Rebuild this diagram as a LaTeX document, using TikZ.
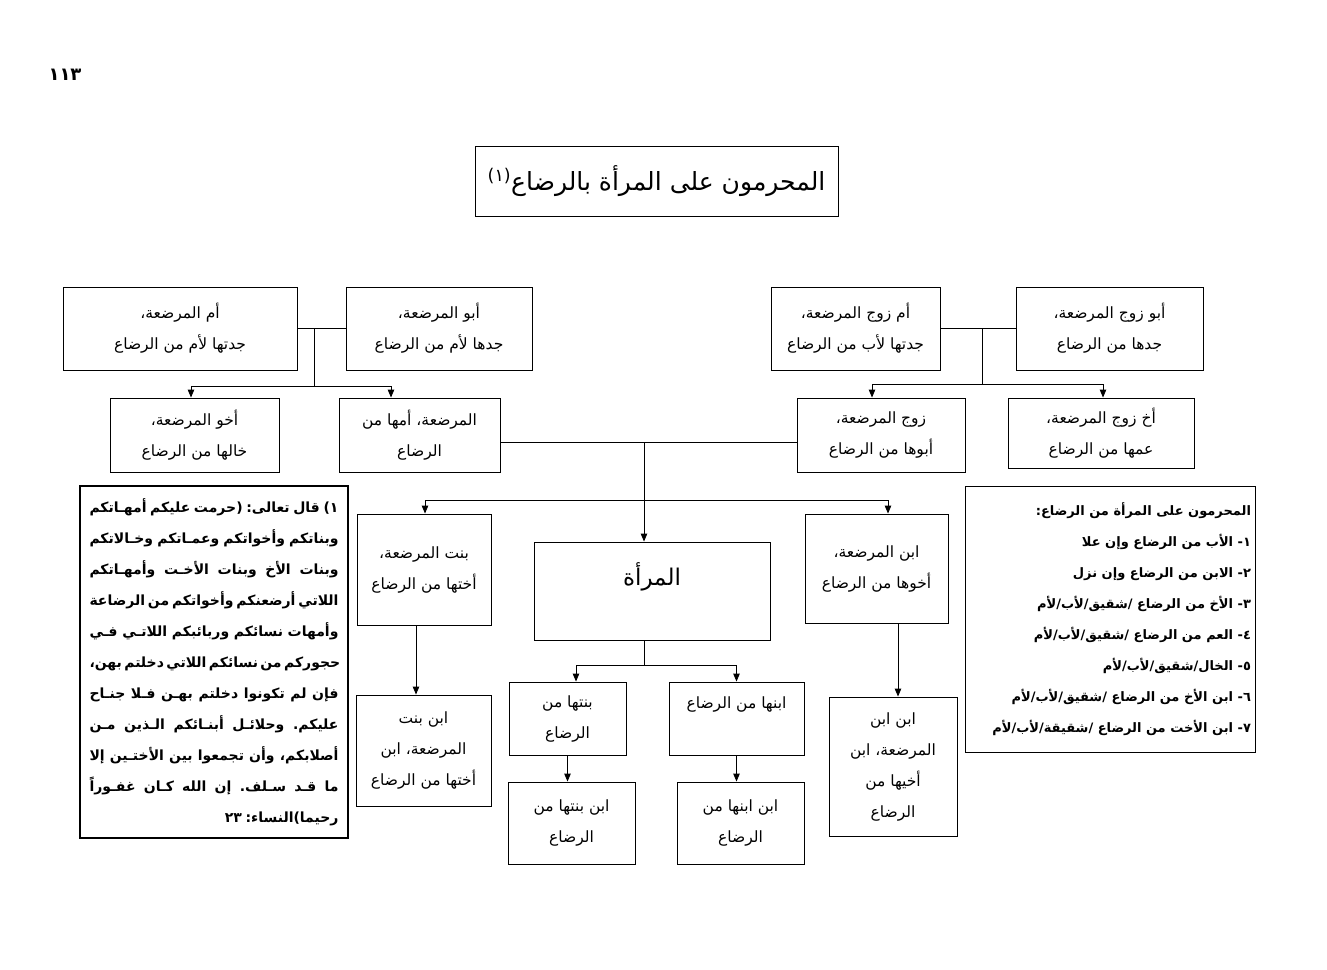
\documentclass[tikz,border=0pt]{standalone}
\usepackage{fontspec}
\usetikzlibrary{arrows.meta}
\newfontfamily\arabicfont[Script=Arabic]{DejaVu Sans}
\TeXXeTstate=1
\frenchspacing
\newcommand{\AR}[1]{\beginR #1\endR}
\newcommand{\noteline}[1]{\hbox to 249pt{\beginR #1\endR}}
\newcommand{\notelast}[1]{\hbox to 249pt{\hfill\beginR #1\endR}}
\newcommand{\listline}[1]{\hbox to 282pt{\hfill\beginR #1\endR}}
\begin{document}
\begin{tikzpicture}[x=1pt,y=-1pt,
  box/.style={draw, line width=0.9pt, inner sep=0pt, align=center,
    font=\arabicfont\fontsize{15.5}{31}\selectfont},
  conn/.style={line width=0.9pt},
  arr/.style={line width=0.9pt, -{Triangle[length=8pt,width=6.5pt]}}]
\useasboundingbox (0,0) rectangle (1327,969);

\node[font=\arabicfont\bfseries\fontsize{18}{20}\selectfont] (pg) at (65,75) {١١٣};

\node[box, minimum width=363pt, minimum height=70pt,
  font=\arabicfont\fontsize{25}{28}\selectfont] (title) at (656.5,181)
  {\AR{المحرمون على المرأة بالرضاع\textsuperscript{(١)}}};

\node[box, minimum width=234pt, minimum height=83pt] (a1) at (180,328.5)
  {\AR{أم المرضعة،}\\\AR{جدتها لأم من الرضاع}};
\node[box, minimum width=186pt, minimum height=83pt] (a2) at (439,328.5)
  {\AR{أبو المرضعة،}\\\AR{جدها لأم من الرضاع}};
\node[box, minimum width=169pt, minimum height=83pt] (a3) at (855.5,328.5)
  {\AR{أم زوج المرضعة،}\\\AR{جدتها لأب من الرضاع}};
\node[box, minimum width=187pt, minimum height=83pt] (a4) at (1109.5,328.5)
  {\AR{أبو زوج المرضعة،}\\\AR{جدها من الرضاع}};

\node[box, minimum width=169pt, minimum height=74pt] (b1) at (194.5,435)
  {\AR{أخو المرضعة،}\\\AR{خالها من الرضاع}};
\node[box, minimum width=161pt, minimum height=74pt] (b2) at (419.5,435)
  {\AR{المرضعة، أمها من}\\\AR{الرضاع}};
\node[box, minimum width=168pt, minimum height=74pt] (c2) at (881,435)
  {\AR{زوج المرضعة،}\\\AR{أبوها من الرضاع}};
\node[box, minimum width=186pt, minimum height=70pt] (c1) at (1101,433)
  {\AR{أخ زوج المرضعة،}\\\AR{عمها من الرضاع}};

\node[box, minimum width=134pt, minimum height=111pt] (d1) at (424,569.5)
  {\AR{بنت المرضعة،}\\\AR{أختها من الرضاع}};
\node[box, minimum width=236pt, minimum height=98pt, text height=16pt, text depth=28pt,
  font=\arabicfont\fontsize{23}{26}\selectfont] (mar) at (652,591) {\AR{المرأة}};
\node[box, minimum width=143pt, minimum height=109pt] (d3) at (876.5,568.5)
  {\AR{ابن المرضعة،}\\\AR{أخوها من الرضاع}};

\node[box, minimum width=135pt, minimum height=111pt] (e1) at (423.5,750.5)
  {\AR{ابن بنت}\\\AR{المرضعة، ابن}\\\AR{أختها من الرضاع}};
\node[box, minimum width=117pt, minimum height=73pt] (f1) at (567.5,718.5)
  {\AR{بنتها من}\\\AR{الرضاع}};
\node[box, minimum width=135pt, minimum height=73pt, text height=13pt, text depth=33pt] (f2) at (736.5,718.5)
  {\AR{ابنها من الرضاع}};
\node[box, minimum width=127pt, minimum height=82pt] (g1) at (571.5,823)
  {\AR{ابن بنتها من}\\\AR{الرضاع}};
\node[box, minimum width=127pt, minimum height=82pt] (g2) at (740.5,823)
  {\AR{ابن ابنها من}\\\AR{الرضاع}};
\node[box, minimum width=128pt, minimum height=139pt] (e3) at (893,766.5)
  {\AR{ابن ابن}\\\AR{المرضعة، ابن}\\\AR{أخيها من}\\\AR{الرضاع}};

\node[draw, line width=2.5pt, inner sep=0pt, minimum width=268pt, minimum height=352pt] (note) at (214,662)
  {\vbox{\arabicfont\bfseries\fontsize{14}{31}\selectfont
  \spaceskip=3.6pt plus 40pt minus 1.2pt
  \noteline{١) قال تعالى: (حرمت عليكم أمهـاتكم}
  \noteline{وبناتكم وأخواتكم وعمـاتكم وخـالاتكم}
  \noteline{وبنات الأخ وبنات الأخـت وأمهـاتكم}
  \noteline{اللاتي أرضعنكم وأخواتكم من الرضاعة}
  \noteline{وأمهات نسائكم وربائبكم اللاتـي فـي}
  \noteline{حجوركم من نسائكم اللاتي دخلتم بهن،}
  \noteline{فإن لم تكونوا دخلتم بهـن فـلا جنـاح}
  \noteline{عليكم. وحلائـل أبنـائكم الـذين مـن}
  \noteline{أصلابكم، وأن تجمعوا بين الأختـين إلا}
  \noteline{ما قـد سـلف. إن الله كـان غفـوراً}
  \notelast{رحيما)النساء: ٢٣}}};

\node[draw, line width=0.9pt, inner sep=0pt, minimum width=290pt, minimum height=266pt] (list) at (1110,619)
  {\vbox{\arabicfont\bfseries\fontsize{13}{31}\selectfont
  \listline{المحرمون على المرأة من الرضاع:}
  \listline{١- الأب من الرضاع وإن علا}
  \listline{٢- الابن من الرضاع وإن نزل}
  \listline{٣- الأخ من الرضاع /شقيق/لأب/لأم}
  \listline{٤- العم من الرضاع /شقيق/لأب/لأم}
  \listline{٥- الخال/شقيق/لأب/لأم}
  \listline{٦- ابن الأخ من الرضاع /شقيق/لأب/لأم}
  \listline{٧- ابن الأخت من الرضاع /شقيقة/لأب/لأم}}};

% connectors, left family
\draw[conn] (a1) -- (a2);
\coordinate (ja) at (314,328.5);
\coordinate (ba) at (314,386);
\draw[conn] (ja) -- (ba);
\draw[arr] (ba) -| ([xshift=-3.5pt]b1.north);
\draw[arr] (ba) -| ([xshift=-28.5pt]b2.north);

% connectors, husband's family
\draw[conn] (a3) -- (a4);
\coordinate (jc) at (982,328.5);
\coordinate (bc) at (982,384);
\draw[conn] (jc) -- (bc);
\draw[arr] (bc) -| ([xshift=-9pt]c2.north);
\draw[arr] (bc) -| ([xshift=2pt]c1.north);

% middle
\draw[conn] ([yshift=-7pt]b2.east) -- ([yshift=-7pt]c2.west);
\coordinate (jm) at (644,442);
\coordinate (bm) at (644,500);
\draw[arr] (jm) -- (jm |- mar.north);
\draw[arr] (bm) -| ([xshift=1pt]d1.north);
\draw[arr] (bm) -| ([xshift=11.5pt]d3.north);

\draw[arr] ([xshift=-8pt]d1.south) -- ([xshift=-8pt]d1.south |- e1.north);
\draw[arr] ([xshift=21.5pt]d3.south) -- ([xshift=21.5pt]d3.south |- e3.north);

\coordinate (bf) at (644,665);
\draw[conn] (mar.south -| bf) -- (bf);
\draw[arr] (bf) -| ([xshift=8.5pt]f1.north);
\draw[arr] (bf) -| (f2.north);
\draw[arr] (f1.south) -- (f1.south |- g1.north);
\draw[arr] (f2.south) -- (f2.south |- g2.north);
\end{tikzpicture}
\end{document}
